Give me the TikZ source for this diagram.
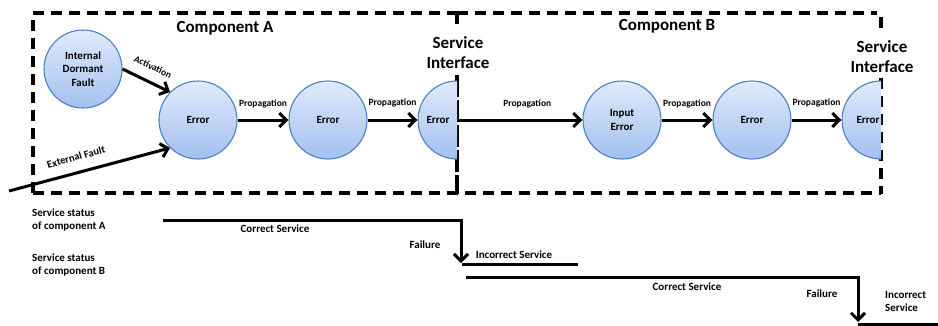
\documentclass[tikz,border=0pt]{standalone}
\usepackage{fontspec}
\setmainfont{Carlito}
\usetikzlibrary{arrows.meta}
\definecolor{circtop}{HTML}{E0EAFA}
\definecolor{circbot}{HTML}{A3C0F0}
\definecolor{circedge}{HTML}{4F81BD}
\tikzset{
  errnode/.style={circle, minimum size=78pt, inner sep=0pt, draw=circedge, line width=1.1pt,
    top color=circtop, bottom color=circbot, align=center,
    font=\fontsize{11}{13.3}\selectfont\bfseries},
  errtext/.style={inner sep=0pt, font=\fontsize{11}{13.3}\selectfont\bfseries},
  flow/.style={line width=3pt, -{Straight Barb[length=7pt,width=14pt]}},
  plainline/.style={line width=3pt},
  boxline/.style={line width=3.2pt, dash pattern=on 11pt off 7pt},
  sharedline/.style={line width=3.2pt, dash pattern=on 22pt off 3pt},
  title/.style={font=\fontsize{17}{20}\selectfont\bfseries, align=center, inner sep=0pt},
  small/.style={font=\fontsize{9.5}{11}\selectfont\bfseries, inner sep=0pt},
  status/.style={font=\fontsize{11}{13.5}\selectfont\bfseries, align=left, inner sep=0pt},
}
\begin{document}
\begin{tikzpicture}[x=1pt,y=-1pt]
\useasboundingbox (0,0) rectangle (938,325);

% component boundaries
\draw[boxline] (33,193) -- (33,13) -- (457,13);
\draw[boxline] (457,13) -- (877,13);
\draw[boxline] (33,193) -- (881,193);
\draw[boxline] (457,13) -- (457,26);
\draw[sharedline] (457,75) -- (457,194);
\draw[boxline] (881,17) -- (881,29);
\draw[boxline] (881,78) -- (881,194);

% titles
\node[title] (compA) at (225,28) {Component A};
\node[title] (compB) at (667,26) {Component B};
\node[title] (siA) at (458,53) {Service\\Interface};
\node[title] (siB) at (882,57) {Service\\Interface};

% fault and error states
\node[errnode] (idf) at (83,69) {Internal\\Dormant\\Fault};
\node[errnode] (e1) at (198,120) {Error};
\node[errnode] (e2) at (328,120) {Error};
\begin{scope}
  \clip (400,70) rectangle (457,170);
  \node[errnode] (e3) at (457,120) {};
\end{scope}
\node[errtext] (e3t) at (438,120) {Error};
\node[errnode] (ie) at (622,120) {Input\\Error};
\node[errnode] (e4) at (752,120) {Error};
\begin{scope}
  \clip (820,70) rectangle (881,170);
  \node[errnode] (e5) at (881,120) {};
  \node[errtext] (e5t) at (868,120) {Error};
\end{scope}

% faults and propagation
\coordinate (ext) at (9,191);
\draw[flow] (idf.east) -- (e1.north west);
\node[small, rotate=-25] (lact) at (153,67) {Activation};
\draw[flow] (ext) -- (e1.south west);
\node[small, font=\fontsize{10.5}{12}\selectfont\bfseries, rotate=15.6] (lext) at (76,157) {External Fault};

\draw[flow] (e1) -- node[small, anchor=base, yshift=14pt] {Propagation} (e2);
\draw[flow] (e2) -- node[small, anchor=base, yshift=15pt] {Propagation} (e3.west);
\draw[flow] (e3.center) -- node[small, pos=0.56, anchor=base, yshift=14pt] {Propagation} (ie);
\draw[flow] (ie) -- node[small, anchor=base, yshift=14pt] {Propagation} (e4);
\draw[flow] (e4) -- node[small, anchor=base, yshift=15pt] {Propagation} (e5.west);

% service status timelines
\node[status, anchor=west] (stA) at (32,220) {Service status\\of component A};
\node[status, anchor=west] (stB) at (32,265) {Service status\\of component B};

\coordinate (aS) at (163,220);
\coordinate (aF) at (461,220);
\coordinate (aE) at (461,263);
\coordinate (aI1) at (462,264);
\coordinate (aI2) at (578,264);
\draw[flow] (aS) -- (aF) -- (aE);
\draw[plainline] (aI1) -- (aI2);
\node[status] (csA) at (275,229) {Correct Service};
\node[status] (fA) at (425,245) {Failure};
\node[status] (isA) at (514,255) {Incorrect Service};

\coordinate (bS) at (466,277);
\coordinate (bF) at (858,277);
\coordinate (bE) at (858,322);
\coordinate (bI1) at (858,324);
\coordinate (bI2) at (938,324);
\draw[flow] (bS) -- (bF) -- (bE);
\draw[plainline] (bI1) -- (bI2);
\node[status] (csB) at (687,287) {Correct Service};
\node[status] (fB) at (822,294) {Failure};
\node[status, anchor=west] (isB) at (885,301.5) {Incorrect\\Service};
\end{tikzpicture}
\end{document}
